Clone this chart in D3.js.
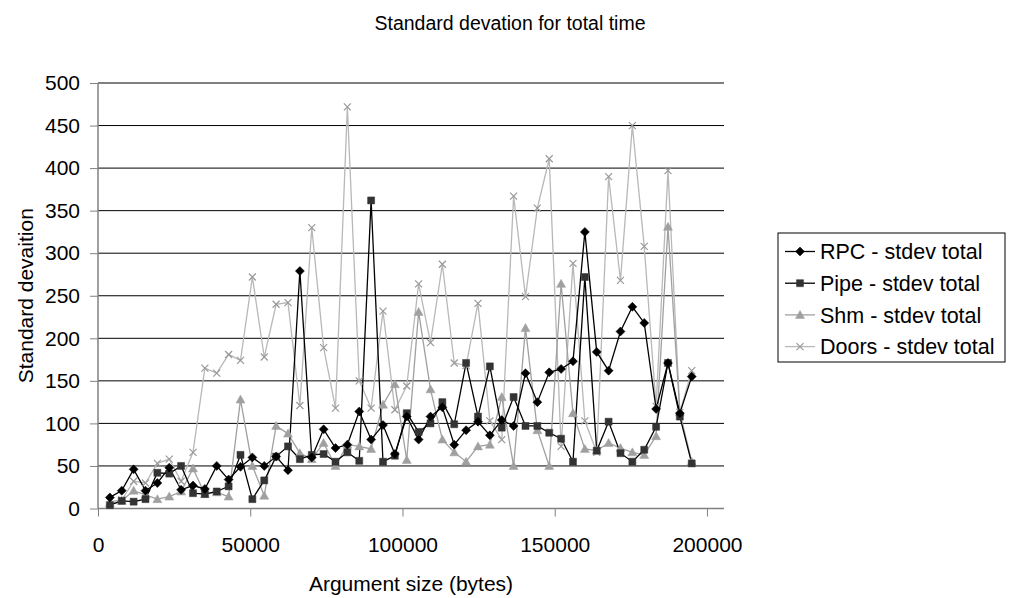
<!DOCTYPE html>
<html>
<head>
<meta charset="utf-8">
<script src="https://cdn.jsdelivr.net/npm/d3@7"></script>
<style>
  body { margin: 0; background: #fff; }
  svg { font-family: "Liberation Sans", Arial, sans-serif; }
</style>
</head>
<body>
<svg id="chart" width="1009" height="598"></svg>
<script>
// argument sizes (bytes)
const sizes = [3900, 7800, 11700, 15600, 19500, 23400, 27300, 31200, 35100, 39000,
  42900, 46800, 50700, 54600, 58500, 62400, 66300, 70200, 74100, 78000,
  81900, 85800, 89700, 93600, 97500, 101400, 105300, 109200, 113100, 117000,
  120900, 124800, 128700, 132600, 136500, 140400, 144300, 148200, 152100, 156000,
  159900, 163800, 167700, 171600, 175500, 179400, 183300, 187200, 191100, 195000]

const rpc = [13, 21, 46, 21, 30, 48, 22, 27, 23, 50,
  34, 49, 60, 50, 61, 45, 279, 60, 93, 71,
  75, 114, 81, 98, 64, 108, 81, 108, 119, 75,
  92, 102, 86, 104, 97, 159, 125, 160, 164, 173,
  325, 184, 162, 208, 237, 218, 117, 171, 112, 155]

const pipe = [4, 9, 8, 11, 42, 41, 50, 18, 17, 20,
  26, 63, 11, 33, 61, 73, 58, 63, 64, 55,
  66, 56, 362, 55, 62, 112, 90, 100, 125, 99,
  171, 108, 167, 95, 131, 97, 97, 89, 82, 55,
  272, 68, 102, 65, 55, 69, 96, 171, 108, 53]

const shm = [6, 9, 21, 16, 11, 14, 20, 47, 17, 19,
  14, 128, 50, 15, 97, 88, 65, 58, 77, 50,
  75, 73, 70, 122, 146, 57, 231, 140, 81, 66,
  55, 73, 75, 131, 50, 212, 92, 50, 264, 112,
  70, 68, 77, 71, 66, 63, 85, 331, 113, 55]

const doors = [8, 10, 32, 30, 53, 58, 32, 66, 165, 159,
  181, 174, 272, 178, 240, 242, 121, 330, 189, 118,
  472, 150, 118, 232, 116, 144, 264, 195, 287, 171,
  168, 241, 103, 81, 367, 249, 353, 411, 73, 288,
  103, 66, 390, 268, 450, 308, 120, 397, 113, 162]

const seriesNames = ["RPC - stdev total", "Pipe - stdev total", "Shm - stdev total", "Doors - stdev total"]
const xTicks = [0, 50000, 100000, 150000, 200000]
const yTicks = [0, 50, 100, 150, 200, 250, 300, 350, 400, 450, 500]

const svg = d3.select("#chart")

const x = d3.scaleLinear().domain([0, 205600]).range([98, 724])
const y = d3.scaleLinear().domain([0, 500]).range([508.5, 83])

// marker shapes
const shapes = {
  diamond: "M0,-4.5L4.5,0L0,4.5L-4.5,0Z",
  square: "M-3.5,-3.5L3.5,-3.5L3.5,3.5L-3.5,3.5Z",
  triangle: "M0,-4.5L4.5,3.5L-4.5,3.5Z",
  cross: "M-3.5,-3.5L3.5,3.5M-3.5,3.5L3.5,-3.5"
}

const series = [
  {name: seriesNames[0], values: rpc, line: "#000", mark: "#000", shape: "diamond"},
  {name: seriesNames[1], values: pipe, line: "#000", mark: "#333", shape: "square"},
  {name: seriesNames[2], values: shm, line: "#a0a0a0", mark: "#a0a0a0", shape: "triangle"},
  {name: seriesNames[3], values: doors, line: "#b8b8b8", mark: "#999", shape: "cross"}
]

// gridlines
svg.append("g")
  .selectAll("line")
  .data(yTicks.slice(1))
  .enter()
  .append("line")
    .attr("x1", x.range()[0]).attr("x2", x.range()[1])
    .attr("y1", d => y(d)).attr("y2", d => y(d))
    .attr("stroke", "#000").attr("stroke-width", 1)

// axes
svg.append("g")
  .attr("transform", "translate(" + x(0) + ",0)")
  .call(d3.axisLeft(y).tickValues(yTicks).tickSize(8).tickPadding(10))
svg.append("g")
  .attr("transform", "translate(0," + y(0) + ")")
  .call(d3.axisBottom(x).tickValues(xTicks).tickFormat(d3.format("d")).tickSize(8).tickPadding(21))

svg.selectAll(".domain").remove()
svg.selectAll(".tick line").attr("stroke", "#808080")
svg.selectAll(".tick text").attr("fill", "#000").style("font-size", "21px").style("font-family", "Liberation Sans, Arial, sans-serif")

svg.append("line")
  .attr("x1", x(0)).attr("x2", x(0)).attr("y1", y(500)).attr("y2", y(0))
  .attr("stroke", "#808080").attr("stroke-width", 1.5)
svg.append("line")
  .attr("x1", x(0)).attr("x2", x.range()[1]).attr("y1", y(0)).attr("y2", y(0))
  .attr("stroke", "#808080").attr("stroke-width", 1.5)

// series lines + markers
const line = d3.line().x((d, i) => x(sizes[i])).y(d => y(d))

series.slice().reverse().forEach(s => {
  svg.append("path")
    .datum(s.values)
    .attr("d", line)
    .attr("fill", "none")
    .attr("stroke", s.line)
    .attr("stroke-width", 1.3)
})

series.slice().reverse().forEach(s => {
  svg.append("g")
    .selectAll("path")
    .data(s.values)
    .enter()
    .append("path")
      .attr("transform", (d, i) => "translate(" + x(sizes[i]) + "," + y(d) + ")")
      .attr("d", shapes[s.shape])
      .attr("fill", s.shape == "cross" ? "none" : s.mark)
      .attr("stroke", s.mark)
      .attr("stroke-width", s.shape == "cross" ? 1.2 : 0.5)
})

// titles
svg.append("text")
  .attr("x", 510).attr("y", 30)
  .attr("text-anchor", "middle")
  .style("font-size", "19.5px")
  .text("Standard devation for total time")

svg.append("text")
  .attr("x", (x.range()[0] + x.range()[1]) / 2).attr("y", 591)
  .attr("text-anchor", "middle")
  .style("font-size", "21px")
  .text("Argument size (bytes)")

svg.append("text")
  .attr("transform", "translate(33," + (y(250)) + ") rotate(-90)")
  .attr("text-anchor", "middle")
  .style("font-size", "21px")
  .text("Standard devaition")

// legend
const legend = svg.append("g").attr("transform", "translate(778,233)")
legend.append("rect")
  .attr("width", 227).attr("height", 129)
  .attr("fill", "#fff").attr("stroke", "#000").attr("stroke-width", 1)

const items = legend.selectAll("g.item")
  .data(series)
  .enter()
  .append("g")
    .attr("class", "item")
    .attr("transform", (d, i) => "translate(0," + (18.5 + i * 31.7) + ")")

items.append("line")
  .attr("x1", 7).attr("x2", 37)
  .attr("stroke", d => d.line).attr("stroke-width", 1.3)
items.append("path")
  .attr("transform", "translate(22,0)")
  .attr("d", d => shapes[d.shape])
  .attr("fill", d => d.shape == "cross" ? "none" : d.mark)
  .attr("stroke", d => d.mark)
  .attr("stroke-width", d => d.shape == "cross" ? 1.2 : 0.5)
items.append("text")
  .attr("x", 42).attr("dy", "0.36em")
  .style("font-size", "21.5px")
  .text(d => d.name)
</script>
</body>
</html>
